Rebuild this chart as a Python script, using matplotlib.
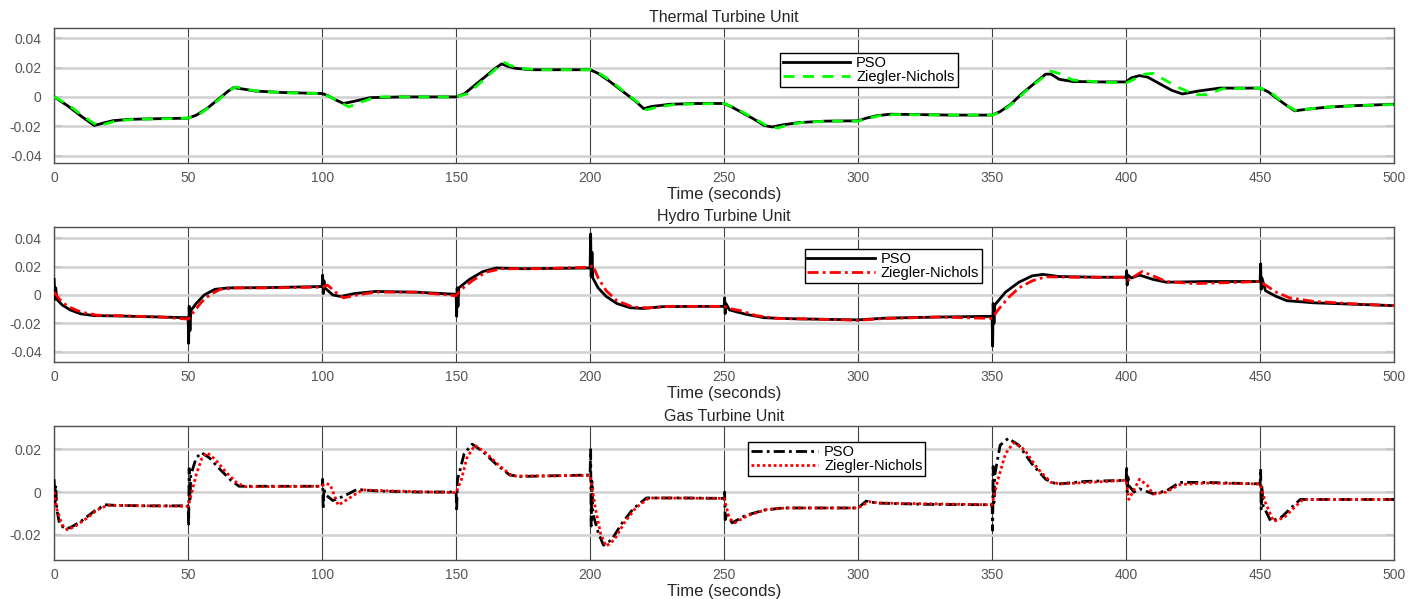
import matplotlib
matplotlib.use('Agg')
import matplotlib.pyplot as plt

plt.rcParams['font.family'] = ['Liberation Sans', 'DejaVu Sans']

x_ticks = [0, 50, 100, 150, 200, 250, 300, 350, 400, 450, 500]
titles = ['Thermal Turbine Unit', 'Hydro Turbine Unit', 'Gas Turbine Unit']
labels = ['PSO', 'Ziegler-Nichols']

# (time, deviation) pairs
thermal_pso = [(0, 0), (5, -0.006), (10, -0.013), (15, -0.0195), (18, -0.018), (22, -0.0162), (28, -0.0153),
               (35, -0.015), (50, -0.0145), (53, -0.0125), (57, -0.008), (61, -0.002), (65, 0.004), (67, 0.0063),
               (70, 0.0055), (75, 0.004), (85, 0.003), (100, 0.0023), (102, 0.001), (105, -0.002), (108, -0.0045),
               (112, -0.003), (118, -0.0005), (130, 0.0), (150, 0.0), (153, 0.002), (157, 0.008), (161, 0.014),
               (165, 0.02), (167, 0.0225), (169, 0.021), (172, 0.0195), (178, 0.0185), (190, 0.0185), (200, 0.0185),
               (203, 0.016), (207, 0.011), (212, 0.004), (217, -0.003), (220, -0.008), (223, -0.0065), (230, -0.005),
               (240, -0.0045), (250, -0.0045), (253, -0.007), (257, -0.011), (261, -0.015), (265, -0.0195),
               (268, -0.0205), (272, -0.019), (278, -0.0175), (288, -0.0165), (300, -0.0163), (303, -0.0145),
               (307, -0.0128), (312, -0.0118), (320, -0.012), (335, -0.0124), (350, -0.0124), (353, -0.01),
               (357, -0.005), (361, 0.002), (365, 0.008), (370, 0.0155), (372, 0.0155), (375, 0.012), (380, 0.0105),
               (390, 0.0102), (400, 0.0102), (402, 0.013), (405, 0.0145), (408, 0.0135), (412, 0.0095),
               (417, 0.0045), (421, 0.002), (427, 0.004), (435, 0.006), (450, 0.006), (453, 0.0035), (457, -0.002),
               (460, -0.006), (463, -0.0095), (467, -0.0085), (475, -0.007), (485, -0.006), (500, -0.005)]
thermal_zn = [(0, 0), (5, -0.005), (10, -0.012), (16, -0.0195), (19, -0.0185), (23, -0.0165), (30, -0.0152),
              (40, -0.015), (50, -0.0145), (54, -0.012), (58, -0.007), (62, -0.001), (66, 0.005), (68, 0.0068),
              (72, 0.005), (78, 0.0035), (88, 0.0028), (100, 0.0022), (103, 0.0), (107, -0.004), (110, -0.0068),
              (114, -0.004), (120, 0.0), (130, 0.0), (150, 0.0), (154, 0.002), (158, 0.008), (162, 0.0145),
              (166, 0.021), (168, 0.0235), (170, 0.0215), (174, 0.0195), (180, 0.0185), (200, 0.0185),
              (204, 0.0155), (208, 0.0105), (213, 0.003), (218, -0.004), (221, -0.0088), (225, -0.007),
              (232, -0.005), (250, -0.0045), (254, -0.0075), (258, -0.0115), (262, -0.0155), (266, -0.0198),
              (270, -0.0212), (274, -0.019), (280, -0.0172), (290, -0.0165), (300, -0.0165), (304, -0.0145),
              (308, -0.0128), (314, -0.012), (330, -0.0123), (350, -0.0125), (354, -0.0095), (358, -0.004),
              (362, 0.003), (366, 0.009), (372, 0.0175), (375, 0.016), (380, 0.0115), (390, 0.0102), (400, 0.0095),
              (403, 0.012), (407, 0.0155), (410, 0.016), (414, 0.012), (420, 0.006), (426, 0.0015), (430, 0.0015),
              (436, 0.0055), (450, 0.006), (454, 0.003), (458, -0.003), (461, -0.007), (464, -0.0098),
              (468, -0.0082), (476, -0.0068), (486, -0.006), (500, -0.0052)]

hydro_pso = [(0, 0.011), (0.3, -0.003), (0.6, 0.005), (1, -0.003), (3, -0.007), (6, -0.0105), (10, -0.0133),
             (15, -0.0145), (25, -0.0148), (40, -0.0155), (50, -0.016), (50.2, -0.034), (50.4, -0.008),
             (50.7, -0.025), (51, -0.011), (53, -0.006), (56, 0.0), (60, 0.004), (65, 0.005), (80, 0.0052),
             (100, 0.006), (100.2, 0.014), (100.4, 0.001), (100.7, 0.01), (101, 0.005), (104, 0.0), (107, -0.001),
             (112, 0.001), (120, 0.0025), (135, 0.002), (150, 0.0005), (150.2, -0.015), (150.4, 0.005),
             (150.7, -0.008), (151, 0.005), (155, 0.011), (160, 0.0165), (165, 0.019), (175, 0.0185),
             (190, 0.0188), (200, 0.019), (200.2, 0.043), (200.4, 0.013), (200.7, 0.03), (201, 0.012),
             (203, 0.005), (206, -0.001), (210, -0.006), (215, -0.009), (220, -0.0095), (227, -0.0082),
             (240, -0.008), (250, -0.008), (250.2, -0.002), (250.4, -0.013), (250.7, -0.006), (252, -0.0105),
             (258, -0.0135), (265, -0.016), (275, -0.0167), (290, -0.0172), (300, -0.0175), (310, -0.0163),
             (330, -0.0155), (350, -0.015), (350.2, -0.036), (350.4, -0.006), (350.7, -0.02), (351, -0.007),
             (355, 0.002), (360, 0.009), (365, 0.0135), (369, 0.0145), (375, 0.013), (390, 0.0125),
             (400, 0.0125), (400.2, 0.017), (400.4, 0.007), (400.7, 0.014), (402, 0.012), (405, 0.014),
             (410, 0.011), (415, 0.009), (430, 0.0095), (450, 0.0095), (450.2, 0.022), (450.4, 0.004),
             (450.7, 0.012), (452, 0.003), (456, -0.001), (460, -0.004), (470, -0.0055), (485, -0.0065),
             (500, -0.0075)]
hydro_zn = [(0, 0.002), (2, -0.003), (5, -0.008), (10, -0.012), (16, -0.0142), (25, -0.0146), (40, -0.0155),
            (50, -0.017), (52, -0.012), (55, -0.005), (58, 0.0), (62, 0.004), (68, 0.005), (80, 0.005),
            (100, 0.0055), (102, 0.007), (105, 0.002), (108, -0.002), (113, 0.0), (120, 0.002), (135, 0.002),
            (150, -0.0005), (152, 0.004), (156, 0.01), (161, 0.016), (167, 0.0185), (180, 0.0185), (200, 0.0195),
            (201, 0.021), (203, 0.012), (206, 0.003), (210, -0.004), (216, -0.0085), (222, -0.009), (230, -0.008),
            (250, -0.008), (252, -0.0095), (256, -0.011), (262, -0.0145), (270, -0.0165), (285, -0.017),
            (300, -0.0178), (310, -0.0165), (330, -0.0155), (350, -0.0165), (352, -0.011), (356, -0.002),
            (360, 0.005), (365, 0.010), (370, 0.0128), (380, 0.0125), (400, 0.0125), (401, 0.0105), (403, 0.013),
            (406, 0.0165), (410, 0.0135), (415, 0.0095), (425, 0.008), (440, 0.0088), (450, 0.0095), (452, 0.007),
            (456, 0.002), (461, -0.002), (470, -0.0045), (485, -0.0062), (500, -0.0075)]

gas_pso = [(0, 0.006), (0.3, -0.005), (0.6, 0.003), (1, -0.008), (2, -0.015), (4, -0.0172), (6, -0.0168),
           (10, -0.0138), (15, -0.009), (19, -0.006), (23, -0.0063), (35, -0.0065), (50, -0.0065), (50.2, -0.016),
           (50.4, 0.011), (50.7, -0.004), (51, 0.008), (53, 0.016), (55, 0.0185), (58, 0.016), (62, 0.0105),
           (66, 0.0055), (69, 0.0027), (85, 0.0027), (100, 0.0027), (100.2, 0.006), (100.4, -0.008),
           (100.7, 0.002), (101, -0.001), (104, -0.004), (108, -0.002), (113, 0.0012), (120, 0.0005), (135, 0.0),
           (150, 0.0), (150.2, -0.009), (150.5, 0.006), (151, 0.008), (153, 0.018), (156, 0.0225), (160, 0.019),
           (165, 0.013), (170, 0.008), (174, 0.0073), (185, 0.0076), (200, 0.008), (200.2, 0.02), (200.4, -0.016),
           (200.7, 0.005), (201, -0.01), (203, -0.019), (205, -0.025), (208, -0.0225), (212, -0.0145),
           (216, -0.008), (221, -0.0028), (235, -0.0028), (250, -0.003), (250.2, 0.0), (250.4, -0.013),
           (251, -0.01), (253, -0.0145), (258, -0.011), (265, -0.0085), (272, -0.0075), (285, -0.0075),
           (300, -0.0075), (303, -0.0043), (307, -0.0052), (325, -0.0058), (350, -0.006), (350.2, -0.018),
           (350.4, 0.012), (350.7, -0.005), (351, 0.008), (353, 0.022), (356, 0.0252), (360, 0.022), (365, 0.013),
           (370, 0.006), (374, 0.0037), (385, 0.005), (400, 0.0055), (400.2, 0.012), (400.4, 0.0), (400.7, 0.008),
           (401, 0.003), (403, 0.0), (405, 0.0015), (410, -0.0008), (415, 0.0005), (420, 0.0045), (430, 0.0045),
           (450, 0.0038), (450.2, 0.011), (450.4, -0.008), (450.7, 0.003), (451, -0.006), (454, -0.0138),
           (458, -0.0118), (462, -0.007), (465, -0.0035), (480, -0.0035), (500, -0.0035)]
gas_zn = [(0, 0.0), (1, -0.008), (3, -0.0155), (5, -0.0178), (8, -0.016), (12, -0.0125), (16, -0.0085),
          (20, -0.0062), (35, -0.0065), (50, -0.0067), (51, -0.002), (53, 0.008), (55, 0.0155), (57, 0.0185),
          (60, 0.0155), (64, 0.0095), (68, 0.0045), (71, 0.0025), (100, 0.0027), (101, 0.004), (103, 0.0035),
          (106, -0.0062), (110, -0.003), (115, 0.001), (125, 0.0005), (150, -0.0003), (152, 0.006), (154, 0.016),
          (157, 0.022), (161, 0.0185), (166, 0.0125), (171, 0.0075), (185, 0.0076), (200, 0.0078),
          (202, -0.008), (204, -0.02), (206, -0.0255), (209, -0.0225), (213, -0.014), (217, -0.0075),
          (222, -0.0028), (250, -0.003), (252, -0.0125), (254, -0.0145), (259, -0.011), (266, -0.0082),
          (273, -0.0075), (300, -0.0075), (304, -0.0045), (308, -0.0052), (350, -0.006), (352, 0.005),
          (355, 0.018), (358, 0.0232), (362, 0.02), (367, 0.011), (372, 0.0045), (376, 0.0038), (400, 0.0055),
          (401, -0.0035), (402.5, 0.0), (405, 0.006), (408, 0.003), (410, -0.001), (415, 0.0), (420, 0.0035),
          (430, 0.0042), (450, 0.0038), (452, -0.005), (455, -0.0138), (459, -0.012), (463, -0.007),
          (466, -0.0035), (500, -0.0035)]

panels = [
    dict(pso=thermal_pso, zn=thermal_zn, ylim=(-0.045, 0.047), yt=[-0.04, -0.02, 0, 0.02, 0.04],
         pso_ls='-', zn_ls=(0, (4, 3)), zn_c='#00ff00', rect=[0.038, 0.728, 0.941, 0.2254], leg=(0.542, 0.815)),
    dict(pso=hydro_pso, zn=hydro_zn, ylim=(-0.047, 0.048), yt=[-0.04, -0.02, 0, 0.02, 0.04],
         pso_ls='-', zn_ls=(0, (4, 1.5, 1, 1.5)), zn_c='#ff0000', rect=[0.038, 0.396, 0.941, 0.2254], leg=(0.560, 0.837)),
    dict(pso=gas_pso, zn=gas_zn, ylim=(-0.032, 0.031), yt=[-0.02, 0, 0.02],
         pso_ls=(0, (4, 1.5, 1, 1.5)), zn_ls=(0, (1, 1)), zn_c='#ff0000', rect=[0.038, 0.065, 0.941, 0.2237], leg=(0.518, 0.881)),
]

fig = plt.figure(figsize=(14.24, 5.99), dpi=100)

for title, p in zip(titles, panels):
    ax = fig.add_axes(p['rect'])
    t1, v1 = zip(*p['pso'])
    t2, v2 = zip(*p['zn'])
    ax.plot(t1, v1, color='black', lw=2.0, ls=p['pso_ls'], label=labels[0], zorder=3)
    ax.plot(t2, v2, color=p['zn_c'], lw=2.0, ls=p['zn_ls'], label=labels[1], zorder=4)

    ax.set_xlim(0, 500)
    ax.set_ylim(*p['ylim'])
    ax.set_xticks(x_ticks)
    ax.set_yticks(p['yt'])
    ax.set_yticklabels(['0' if v == 0 else f'{v:g}' for v in p['yt']])

    # horizontal grid light, vertical grid dark
    ax.yaxis.grid(True, color='#d0d0d0', lw=1.8)
    ax.xaxis.grid(True, color='#404040', lw=0.8)
    ax.set_axisbelow(True)

    ax.tick_params(direction='in', length=6, width=1.5, colors='#c8c8c8', labelcolor='#555555',
                   labelsize=10, right=True, top=False)
    ax.tick_params(axis='y', pad=9)
    ax.tick_params(axis='x', length=0, pad=6)
    for s in ax.spines.values():
        s.set_color('#505050')
        s.set_linewidth(1.0)

    ax.set_title(title, fontsize=11.5, color='#262626', pad=4)
    ax.set_xlabel('Time (seconds)', fontsize=12, color='#262626', labelpad=1)

    leg = ax.legend(loc='upper left', bbox_to_anchor=p['leg'], fontsize=10.5, handlelength=4.6,
                    frameon=True, fancybox=False, edgecolor='black', framealpha=1,
                    borderpad=0.2, labelspacing=0.0, handletextpad=0.4, borderaxespad=0)
    leg.get_frame().set_linewidth(1.0)

fig.savefig('out.png', dpi=100)
